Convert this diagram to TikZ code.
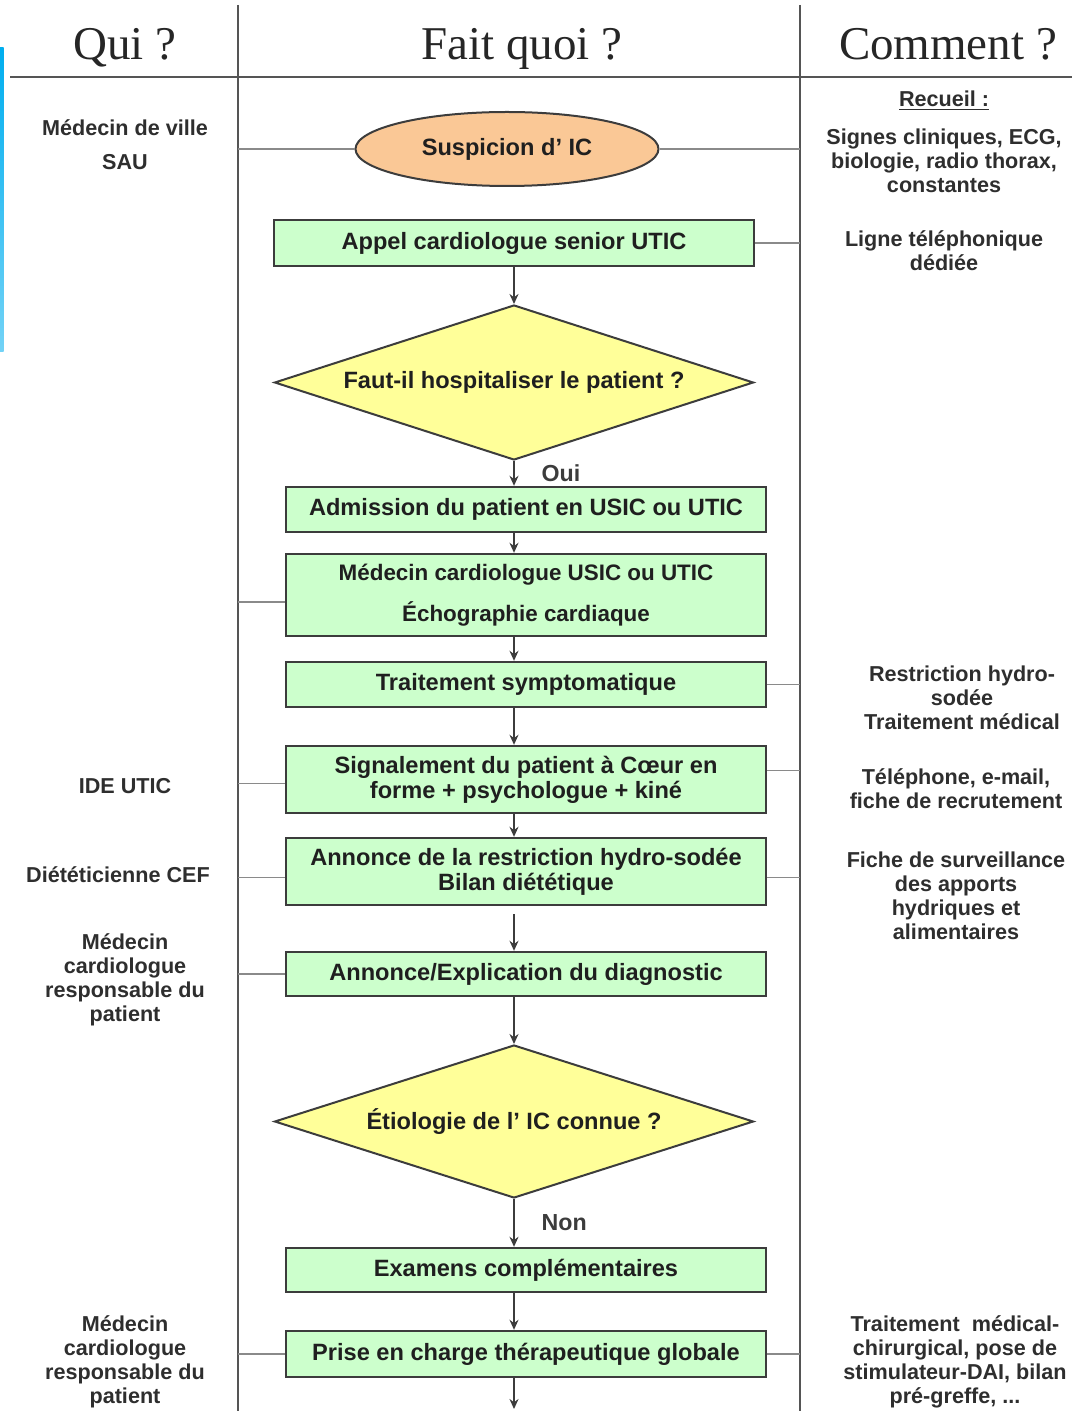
\documentclass[tikz,border=0pt]{standalone}
\usepackage{fontspec}
\setmainfont{Liberation Sans}
\newfontfamily\headfont{Liberation Serif}
\usetikzlibrary{positioning}
\usetikzlibrary{shapes.geometric}
\usetikzlibrary{arrows.meta}

\definecolor{boxgreen}{HTML}{CCFFCC}
\definecolor{diamyellow}{HTML}{FFFF99}
\definecolor{ovalpeach}{HTML}{FAC896}
\definecolor{edgegray}{HTML}{3C3C3C}
\definecolor{rulegray}{HTML}{555555}
\definecolor{tiegray}{HTML}{8A8A8A}
\definecolor{stripcyan}{HTML}{00AEEF}

\tikzset{
	stepbox/.style = {draw = edgegray, line width = 1.2pt, fill = boxgreen, minimum width = 240pt, minimum height = 22.5pt, inner sep = 0pt, align = center, text = black!88, font = \bfseries\fontsize{11.8}{12.5}\selectfont},
	question/.style = {diamond, draw = edgegray, line width = 1pt, fill = diamyellow, aspect = 3.09, minimum width = 239.5pt, inner sep = 0pt, text = black!88, font = \bfseries\fontsize{11.8}{12.5}\selectfont},
	onset/.style = {ellipse, draw = edgegray, line width = 1pt, fill = ovalpeach, minimum width = 151.5pt, minimum height = 37pt, inner sep = 0pt, text = black!88, font = \bfseries\fontsize{11.8}{12.5}\selectfont},
	who/.style = {align = center, text = black!82, font = \bfseries\fontsize{10.8}{12}\selectfont},
	tie/.style = {tiegray, line width = 0.8pt},
	flow/.style = {edgegray, line width = 1pt, ->},
	colhead/.style = {anchor = base, text = black!85, font = \headfont\fontsize{23.5}{26}\selectfont}
}

\begin{document}
\begin{tikzpicture}[x = 0.5pt, y = -0.5pt, >= {Stealth[length = 5pt, width = 4.5pt]}]
	\useasboundingbox (0, 0) rectangle (1072, 1411);
	\shade [top color = stripcyan, bottom color = stripcyan!55] (0, 48) rectangle (3.5, 352);

	% table
	\coordinate (colA) at (238, 5);
	\coordinate (colB) at (800, 5);
	\draw [rulegray, line width = 1.1pt] (colA) -- (238, 1411);
	\draw [rulegray, line width = 1.1pt] (colB) -- (800, 1411);
	\draw [rulegray, line width = 1.4pt] (10, 77) -- (1072, 77);
	\node [colhead] (qui) at (125, 60) {Qui ?};
	\node [colhead] (quoi) at (522, 60) {Fait quoi ?};
	\node [colhead] (comment) at (948, 60) {Comment ?};

	% flow
	\node [onset] (suspicion) at (507, 149) {Suspicion d’ IC};
	\node [stepbox, minimum height = 23pt] (appel) at (514, 243) {Appel cardiologue senior UTIC};
	\node [question, minimum height = 77.5pt] (hosp) at (514, 382.5) {Faut-il hospitaliser le patient ?};
	\node [stepbox] (admission) at (526, 509.5) {Admission du patient en USIC ou UTIC};
	\node [stepbox, minimum height = 41pt, font = \bfseries\fontsize{11.2}{12}\selectfont] (medecin) at (526, 595) {Médecin cardiologue USIC ou UTIC\\[7.5pt]Échographie cardiaque};
	\node [stepbox] (traitement) at (526, 684.5) {Traitement symptomatique};
	\node [stepbox, minimum height = 33.5pt] (signal) at (526, 779.5) {Signalement du patient à Cœur en\\forme + psychologue + kiné};
	\node [stepbox, minimum height = 33.5pt] (annonce) at (526, 871.5) {Annonce de la restriction hydro-sodée\\Bilan diététique};
	\node [stepbox, minimum height = 22pt] (diag) at (526, 974) {Annonce/Explication du diagnostic};
	\node [question, minimum height = 76.5pt] (etio) at (514, 1121.5) {Étiologie de l’ IC connue ?};
	\node [stepbox, minimum height = 22pt] (examens) at (526, 1270) {Examens complémentaires};
	\node [stepbox, minimum height = 23pt] (prise) at (526, 1354) {Prise en charge thérapeutique globale};
	\coordinate (suite) at (514, 1409);

	\draw [flow] (appel) -- (hosp);
	\draw [flow] (hosp) -- (admission.north -| hosp) node [pos = 0.5, right = 10pt, font = \bfseries\fontsize{11.6}{12}\selectfont] {Oui};
	\draw [flow] (admission.south -| hosp) -- (medecin.north -| hosp);
	\draw [flow] (medecin.south -| hosp) -- (traitement.north -| hosp);
	\draw [flow] (traitement.south -| hosp) -- (signal.north -| hosp);
	\draw [flow] (signal.south -| hosp) -- (annonce.north -| hosp);
	\draw [flow] ([yshift = -4pt]annonce.south -| hosp) -- (diag.north -| hosp);
	\draw [flow] (diag.south -| hosp) -- (etio);
	\draw [flow] (etio) -- (examens.north -| etio) node [pos = 0.5, right = 10pt, font = \bfseries\fontsize{11.6}{12}\selectfont] {Non};
	\draw [flow] (examens.south -| etio) -- (prise.north -| etio);
	\draw [flow] (prise.south -| etio) -- (suite);

	% who
	\node [who] (qui1) at (125, 145) {Médecin de ville\\[5pt]SAU};
	\node [who] (qui2) at (125, 786) {IDE UTIC};
	\node [who] (qui3) at (118, 875) {Diététicienne CEF};
	\node [who] (qui4) at (125, 980) {Médecin\\cardiologue\\responsable du\\patient};
	\node [who] (qui5) at (125, 1362) {Médecin\\cardiologue\\responsable du\\patient};

	% how
	\node [who] (comment1) at (944, 101) {\underline{Recueil :}};
	\node [who] (comment2) at (944, 161) {Signes cliniques, ECG,\\biologie, radio thorax,\\constantes};
	\node [who] (comment3) at (944, 251) {Ligne téléphonique\\dédiée};
	\node [who] (comment4) at (962, 698) {Restriction hydro-\\sodée\\Traitement médical};
	\node [who] (comment5) at (956, 789) {Téléphone, e-mail,\\fiche de recrutement};
	\node [who] (comment6) at (956, 896) {Fiche de surveillance\\des apports\\hydriques et\\alimentaires};
	\node [who] (comment7) at (955, 1362) {Traitement~~médical-\\chirurgical, pose de\\stimulateur-DAI, bilan\\pré-greffe, ...};

	% ties to the columns
	\draw [tie] (colA |- suspicion) -- (suspicion.west);
	\draw [tie] (suspicion.east) -- (colB |- suspicion);
	\draw [tie] (appel.east) -- (colB |- appel);
	\draw [tie] ([yshift = -3.5pt]colA |- medecin) -- ([yshift = -3.5pt]medecin.west);
	\draw [tie] (traitement.east) -- (colB |- traitement);
	\draw [tie] ([yshift = -2pt]colA |- signal) -- ([yshift = -2pt]signal.west);
	\draw [tie] ([yshift = 4.5pt]signal.east) -- ([yshift = 4.5pt]colB |- signal);
	\draw [tie] ([yshift = -3pt]colA |- annonce) -- ([yshift = -3pt]annonce.west);
	\draw [tie] ([yshift = -3pt]annonce.east) -- ([yshift = -3pt]colB |- annonce);
	\draw [tie] (colA |- diag) -- (diag.west);
	\draw [tie] (colA |- prise) -- (prise.west);
	\draw [tie] (prise.east) -- (colB |- prise);
\end{tikzpicture}
\end{document}
